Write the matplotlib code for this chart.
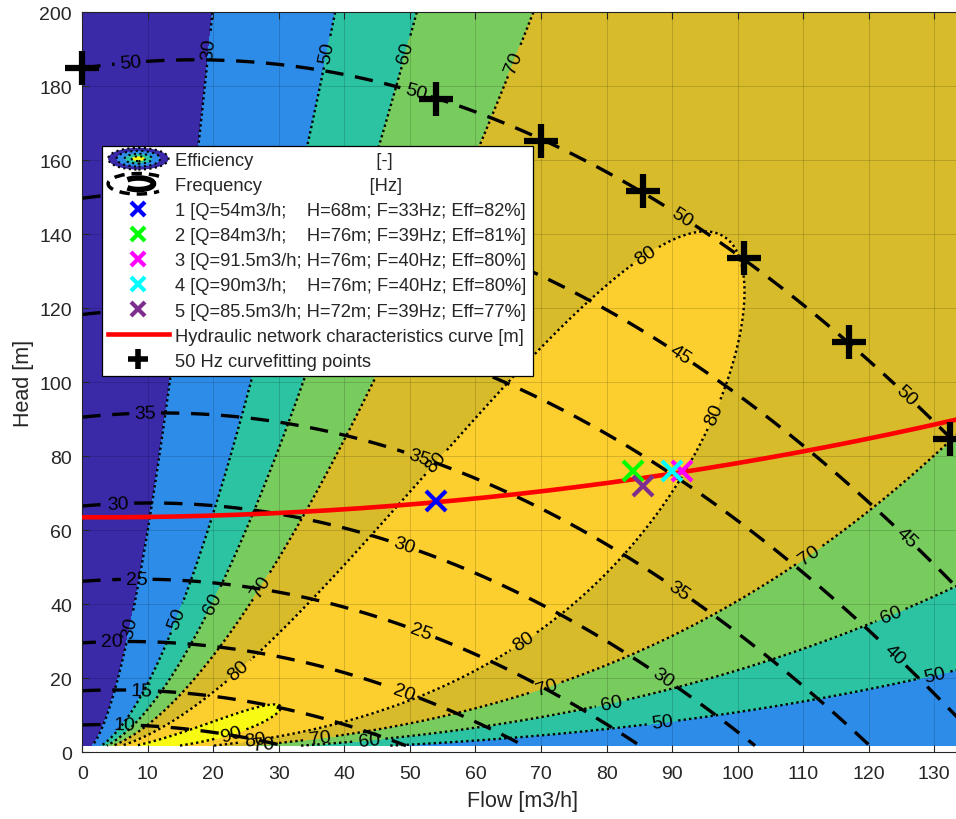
import numpy as np
import matplotlib
matplotlib.use("Agg")
import matplotlib.pyplot as plt
from matplotlib.legend_handler import HandlerBase
from matplotlib.patches import Ellipse, Arc
from matplotlib.lines import Line2D

plt.rcParams['font.family'] = ['Liberation Sans', 'DejaVu Sans']

# 50 Hz pump curve (curvefitting points)
q50 = [0, 54, 70, 85.6, 101, 117, 132.4]
h50 = [185, 176.6, 165.1, 151.6, 133.5, 111, 84.6]

# efficiency along the 50 Hz curve vs flow
q_eff50 = [19.1, 36.4, 47.6, 62, 97, 134, 147.3, 158.3]
eff50 = [30, 50, 60, 70, 80, 70, 60, 50]

# best efficiency vs frequency
f_peak = [10, 15, 26, 33, 40, 50]
eff_peak = [92, 90.3, 86, 84.2, 82.4, 80]

# hydraulic network curve
q_sys = [0, 54, 91.5, 133.5]
h_sys = [63.5, 67.7, 75.6, 90]

# operating points
op_q = [54, 84, 91.5, 90, 85.5]
op_h = [68, 76, 76, 76, 72]
op_f = [33, 39, 40, 40, 39]
op_eff = [82, 81, 80, 80, 77]
op_colors = ['#0000ff', '#00ff00', '#ff00ff', '#00ffff', '#7e2f8e']

eff_levels = [30, 50, 60, 70, 80, 90]
freq_levels = [10, 15, 20, 25, 30, 35, 40, 45, 50]
band_colors = ['#3a2aa8', '#2d8ce8', '#2cc3a2', '#78cc5e', '#d7bb2a', '#fcce2e', '#f8fa14']

# label positions (data coords)
freq_lbl = [(7.3, 186.9), (50.9, 178.7), (91.7, 145.3), (125.5, 96), (91.2, 107.6), (125.5, 57.6),
            (123.7, 26), (9.6, 90.6), (51.2, 78.7), (90.9, 43.3), (5.5, 66.8), (48.9, 54.9),
            (88.5, 19.8), (8.3, 46.3), (51.5, 32), (4.5, 29.3), (48.9, 15.2), (9.1, 16.3), (6.5, 7.1)]
eff_lbl = [(19.5, 190), (6.2, 34), (36.7, 189.5), (13.7, 36.8), (88.4, 9.9), (129.5, 25.5),
           (43.9, 2.5), (48.9, 189.5), (19.2, 40.9), (80.5, 15.2), (122.8, 39.6), (36.3, 4.1),
           (65.6, 186.8), (26.8, 45.5), (70.3, 20.4), (110, 55.8), (27.6, 2.5), (85.6, 135.2),
           (94.7, 92.8), (54.6, 77.4), (23.6, 22.5), (66.3, 32.8), (26.4, 3.6), (22.6, 5.8)]

XMAX = 134.5

# pump model from affinity laws
c2, c1, c0 = np.polyfit(q50, h50, 2)
Q, H = np.meshgrid(np.linspace(0, XMAX, 500), np.linspace(1.8, 200, 500))
s = (-c1 * Q + np.sqrt((c1 * Q) ** 2 - 4 * c0 * (c2 * Q ** 2 - H))) / (2 * c0)
F = 50 * s
R = Q / s

# efficiency shape from the 50 Hz points, scaled by best efficiency at each frequency
pe = np.polyfit(q_eff50, eff50, 2)
r_bep = -pe[1] / (2 * pe[0])
shape = np.polyval(pe, R) / np.polyval(pe, r_bep)
EFF = np.polyval(np.polyfit(f_peak, eff_peak, 2), F) * shape


class EffIcon:
    pass


class FreqIcon:
    pass


class HandlerEff(HandlerBase):
    def create_artists(self, legend, orig_handle, xdescent, ydescent, width, height, fontsize, trans):
        cx, cy = width / 2 - xdescent, height / 2 - ydescent
        arts = []
        for fr, col in zip([1.0, 0.72, 0.45, 0.22], ['#3a2aa8', '#2d8ce8', '#2cc3a2', '#f8fa14']):
            arts.append(Ellipse((cx, cy), width * fr, height * 1.7 * fr, facecolor=col,
                                edgecolor='k', linestyle=':', lw=1.5, transform=trans))
        return arts


class HandlerFreq(HandlerBase):
    def create_artists(self, legend, orig_handle, xdescent, ydescent, width, height, fontsize, trans):
        cx, cy = width / 2 - xdescent, height / 2 - ydescent
        a1 = Arc((cx, cy), width, height * 1.6, theta1=20, theta2=340, lw=2.5,
                 linestyle=(0, (3, 2)), color='k', transform=trans)
        a2 = Arc((cx, cy), width * 0.5, height * 0.9, theta1=200, theta2=520, lw=4,
                 color='k', transform=trans)
        return [a1, a2]


fig = plt.figure(figsize=(9.56, 8.2), dpi=100)
ax = fig.add_axes([82.3 / 956, 1 - 753.3 / 820, XMAX * 6.553 / 956, 740 / 820])

ax.contourf(Q, H, EFF, levels=[-1e3] + eff_levels + [1e3], colors=band_colors)
cs_e = ax.contour(Q, H, EFF, levels=eff_levels, colors='k', linewidths=1.7)
cs_e.set_linestyle((0, (1, 1.3)))
cs_f = ax.contour(Q, H, F, levels=freq_levels, colors='k', linewidths=2.4)
cs_f.set_linestyle((0, (5.5, 3.5)))
ax.clabel(cs_e, fmt='%d', fontsize=14, manual=eff_lbl, inline=True)
ax.clabel(cs_f, fmt='%d', fontsize=14, manual=freq_lbl, inline=True)

qq = np.linspace(0, XMAX, 200)
ax.plot(qq, np.polyval(np.polyfit(q_sys, h_sys, 2), qq), color='#ff0000', lw=3.3, zorder=4)

for q, h, c in zip(op_q, op_h, op_colors):
    ax.plot(q, h, 'x', color=c, ms=15, mew=3, zorder=5)
ax.plot(q50, h50, '+', color='k', ms=24, mew=4.5, zorder=6, clip_on=False)

ax.set_xlim(0, XMAX)
ax.set_ylim(0, 200)
ax.set_xticks(range(0, 140, 10))
ax.set_yticks(range(0, 201, 20))
ax.grid(True, color='k', alpha=0.15, lw=0.7)
ax.set_axisbelow(False)
ax.tick_params(direction='in', top=True, right=True, length=5, width=0.8, labelsize=14,
               colors='#262626')
ax.tick_params(axis='x', pad=9)
ax.tick_params(axis='y', pad=7.5)
for sp in ax.spines.values():
    sp.set_color('#262626')
    sp.set_linewidth(0.8)
ax.set_xlabel('Flow [m3/h]', fontsize=15.5, color='#262626', labelpad=6)
ax.set_ylabel('Head [m]', fontsize=15.5, color='#262626', labelpad=4)

handles = [EffIcon(), FreqIcon()]
labels = ['Efficiency' + ' ' * 24 + '[-]', 'Frequency' + ' ' * 21 + '[Hz]']
for i, (q, h, f, e, c) in enumerate(zip(op_q, op_h, op_f, op_eff, op_colors), start=1):
    qs = f'{q:g}'
    pad = ' ' if '.' in qs else '    '
    handles.append(Line2D([], [], ls='none', marker='x', color=c, ms=10, mew=3))
    labels.append(f'{i} [Q={qs}m3/h;{pad}H={h:g}m; F={f:g}Hz; Eff={e:g}%]')
handles.append(Line2D([], [], color='#ff0000', lw=3.3))
labels.append('Hydraulic network characteristics curve [m]')
handles.append(Line2D([], [], ls='none', marker='+', color='k', ms=14, mew=4))
labels.append('50 Hz curvefitting points')

leg = ax.legend(handles, labels, loc='upper left', bbox_to_anchor=(101.7 / 956, 1 - 146.7 / 820),
                bbox_transform=fig.transFigure, borderaxespad=0, fontsize=13.2, fancybox=False,
                framealpha=1, edgecolor='k', handlelength=3.3, handletextpad=0.35,
                labelspacing=0.44, borderpad=0.35,
                handler_map={EffIcon: HandlerEff(), FreqIcon: HandlerFreq()})
leg.get_frame().set_linewidth(0.9)
leg.set_zorder(10)
for t in leg.get_texts():
    t.set_color('#262626')

fig.savefig('out.png', dpi=100)
